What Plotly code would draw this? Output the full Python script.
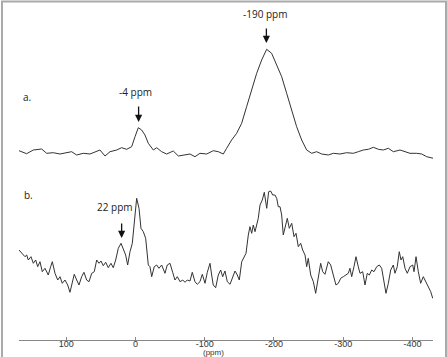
import plotly.graph_objects as go

# ---- data (chemical shift in ppm, intensity in arbitrary units) ----
ppm_a = [168.2, 157.2, 147.6, 135.5, 128.3, 118.7, 109.1, 99.4, 92.2, 85.0, 75.4, 65.7,
         56.1, 51.3, 44.0, 36.8, 27.2, 20.0, 12.8, 5.5, 0.7, -4.1, -8.9, -13.7, -18.5,
         -25.8, -30.6, -37.8, -45.0, -54.6, -61.9, -71.5, -78.7, -85.9, -93.1, -102.8,
         -112.4, -119.6, -126.8, -131.6, -138.8, -146.1, -153.3, -160.5, -167.7, -175.0,
         -182.2, -189.4, -196.6, -203.9, -211.1, -218.3, -225.5, -232.7, -240.0, -247.2,
         -254.4, -261.6, -268.9, -278.5, -285.7, -295.3, -304.9, -314.6, -321.8, -329.0,
         -336.3, -343.5, -350.7, -357.9, -365.1, -372.4, -382.0, -389.2, -396.4, -406.1,
         -413.3, -420.5, -430.1]
int_a = [1.3, -1.7, 2.0, 3.0, -1.3, -0.7, -2.0, -0.7, 0.3, -3.0, -1.3, -2.0,
         0.3, 2.0, -4.0, 0.3, 2.0, 4.3, 2.7, 5.3, 15.3, 24.3, 22.0, 17.0, 8.7,
         2.0, 4.3, 0.3, -2.0, 1.0, -4.0, -3.0, -2.0, -4.7, -1.3, -2.0,
         1.3, 0.3, -2.0, 3.7, 12.0, 18.7, 28.7, 45.3, 62.0, 78.7,
         92.0, 102.7, 98.7, 87.0, 75.3, 58.7, 42.0, 25.3, 12.0, 2.0,
         -1.3, 0.3, -2.0, -3.0, -1.3, -2.0, -0.7, -1.3, 0.3, 2.0,
         2.7, 4.7, 2.7, 2.0, 3.7, 0.3, 2.0, 0.3, -1.3, -1.3,
         -2.0, -4.7, -6.3]

ppm_b = [168.2, 163.4, 159.6, 157.1, 154.8, 150.9, 147.5, 144.1, 141.2, 137.9, 134.6, 130.7,
         125.9, 122.5, 120.1, 116.2, 112.3, 109.0, 105.7, 101.8, 97.9, 94.6, 91.3, 88.4,
         84.9, 81.6, 77.7, 74.4, 70.5, 67.1, 63.2, 59.5, 56.0, 52.7, 49.8, 46.5, 43.0,
         39.3, 35.4, 32.1, 28.6, 24.8, 20.9, 17.6, 14.2, 11.3, 7.9, 4.6, 1.7, -1.7,
         -5.1, -7.9, -11.3, -14.7, -18.5, -20.9, -23.4, -27.1, -30.6, -33.9, -37.8,
         -42.6, -45.9, -49.8, -53.7, -57.0, -60.4, -64.3, -68.2, -71.5, -74.8, -78.7,
         -82.0, -85.9, -89.2, -93.1, -96.5, -100.4, -103.7, -107.6, -110.0, -112.3,
         -115.8, -119.6, -123.0, -125.9, -129.2, -132.6, -136.5, -140.4, -143.7, -147.0,
         -149.9, -153.4, -156.7, -159.6, -162.9, -165.3, -167.8, -170.1, -172.6, -175.0,
         -177.3, -179.8, -183.1, -186.0, -189.5, -192.3, -195.2, -198.1, -201.4, -203.9,
         -206.2, -208.7, -211.1, -213.4, -215.9, -219.2, -222.1, -225.6, -228.9, -231.8,
         -235.1, -238.6, -241.4, -244.8, -247.2, -249.5, -253.0, -256.8, -260.2, -264.0,
         -267.4, -270.3, -273.6, -278.4, -281.9, -285.6, -289.5, -292.9, -296.3, -300.1,
         -304.0, -307.3, -309.7, -312.2, -315.5, -318.4, -321.7, -324.2, -328.1, -331.4,
         -334.7, -337.6, -341.1, -344.4, -348.3, -352.1, -355.5, -358.8, -361.7, -365.1,
         -368.5, -372.3, -374.7, -378.0, -380.9, -383.4, -385.9, -389.2, -392.5, -396.4,
         -400.3, -402.2, -405.1, -408.4, -411.8, -415.6, -419.5, -422.8, -426.3, -429.2]
int_b = [15.0, 11.7, 8.3, 10.0, 5.0, 8.3, 1.7, 5.0, -1.7, 3.3, -6.7, -3.3,
         -10.0, -1.7, 3.3, -8.3, -15.0, -11.7, -18.3, -15.0, -20.0, -27.3, -18.3, -9.3,
         -15.0, -20.0, -11.7, -7.3, -15.0, -16.7, -8.3, -6.7, 5.0, 1.7, 4.0, -0.7, 2.7,
         -2.7, 1.7, -2.7, 5.0, 16.7, 21.7, 15.0, 10.0, 0.0, 13.3, 21.7, 40.0, 66.7,
         56.7, 36.7, 33.3, 26.7, 0.0, -1.7, -11.7, -1.7, 0.0, -3.3, 0.0,
         -8.3, 0.0, 1.7, -7.3, -15.0, -11.7, -16.7, -15.0, -17.3, -15.0, -16.0,
         -7.3, -16.7, -19.3, -16.7, -9.3, -18.3, -7.3, 1.7, -10.0, -20.0,
         -22.7, -10.0, -5.0, -11.7, -6.0, -16.7, -19.3, -11.7, -6.0, -10.0,
         -15.0, 3.3, 8.3, 11.7, 30.0, 38.3, 31.7, 40.0, 33.3, 41.7,
         46.7, 60.0, 65.0, 72.7, 56.7, 73.3, 74.0, 70.0, 70.0, 66.7,
         58.3, 58.3, 50.0, 30.0, 36.7, 46.7, 36.7, 41.7, 28.3, 31.7,
         18.3, 21.7, 15.0, 10.0, -1.7, 6.7, -10.0, -16.7, -28.3, -10.0,
         1.7, -6.7, -9.3, 3.3, 0.0, -10.0, -20.0, -18.3, -13.3, -11.7,
         -10.0, -8.3, -3.3, -11.7, -1.7, 8.3, -1.7, -8.3, -6.7, -20.0,
         -8.3, -10.0, -5.0, -6.7, -1.7, 0.0, -3.3, -16.7, -28.3, -18.3,
         -5.0, 0.0, -8.3, -1.7, 13.3, 5.0, 8.3, -3.3, -8.3, -1.7,
         0.0, -6.7, 8.3, -6.7, -18.3, -11.7, -16.7, -21.7, -26.7, -33.3]

offset_a = 188
offset_b = 75

tick_vals = [100, 0, -100, -200, -300, -400]
tick_text = ["100", "0", "-100", "-200", "-300", "-400"]

# annotations: (label, ppm of arrow, arrow tip intensity, arrow tail intensity, text ppm, text y)
peak_labels = ["-190 ppm", "-4 ppm", "22 ppm"]
peak_ppm = [-189, -4.5, 20]
tip_y = [297, 218, 102]
tail_y = [313, 235, 118]
text_ppm = [-187.5, -0.7, 29.6]
text_y = [326, 248, 133]

fig = go.Figure()
fig.add_trace(go.Scatter(x=ppm_a, y=[v + offset_a for v in int_a], mode="lines",
                         line=dict(color="#333333", width=1), hoverinfo="skip"))
fig.add_trace(go.Scatter(x=ppm_b, y=[v + offset_b for v in int_b], mode="lines",
                         line=dict(color="#333333", width=1), hoverinfo="skip"))

anns = []
for lab, px, ty, tl, tx, tyy in zip(peak_labels, peak_ppm, tip_y, tail_y, text_ppm, text_y):
    anns.append(dict(x=px, y=ty, ax=px, ay=tl, xref="x", yref="y", axref="x", ayref="y",
                     text="", showarrow=True, arrowhead=2, arrowsize=1.1, arrowwidth=1.3,
                     arrowcolor="#111111"))
    anns.append(dict(x=tx, y=tyy, xref="x", yref="y", text=lab, showarrow=False,
                     font=dict(family="Open Sans", size=10, color="#222222")))
anns.append(dict(x=156.5, y=243, xref="x", yref="y", text="a.", showarrow=False,
                 font=dict(family="Open Sans", size=10, color="#222222")))
anns.append(dict(x=155, y=145, xref="x", yref="y", text="b.", showarrow=False,
                 font=dict(family="Open Sans", size=10, color="#222222")))
anns.append(dict(x=0.469, y=-0.036, xref="paper", yref="paper", text="(ppm)", showarrow=False,
                 yanchor="middle", font=dict(family="Liberation Sans", size=8, color="#333333")))

fig.update_layout(
    width=447, height=357,
    margin=dict(l=19, r=14, t=0, b=17),
    paper_bgcolor="white", plot_bgcolor="white",
    showlegend=False,
    annotations=anns,
    xaxis=dict(range=[168.2, -429.6], tickvals=tick_vals, ticktext=tick_text,
               showgrid=False, zeroline=False, showline=True, linecolor="#888888",
               linewidth=1, ticks="inside", ticklen=3, tickcolor="#888888",
               ticklabelstandoff=-5,
               tickfont=dict(family="Liberation Sans", size=9, color="#333333")),
    yaxis=dict(range=[0, 340], visible=False, showgrid=False, zeroline=False),
    shapes=[dict(type="rect", xref="paper", yref="paper",
                 x0=(2 - 19) / 414, x1=(446 - 19) / 414, y0=-0.06, y1=(340 - 1.5) / 340,
                 line=dict(color="#aaaaaa", width=2))],
)

fig.write_html("out.html")
